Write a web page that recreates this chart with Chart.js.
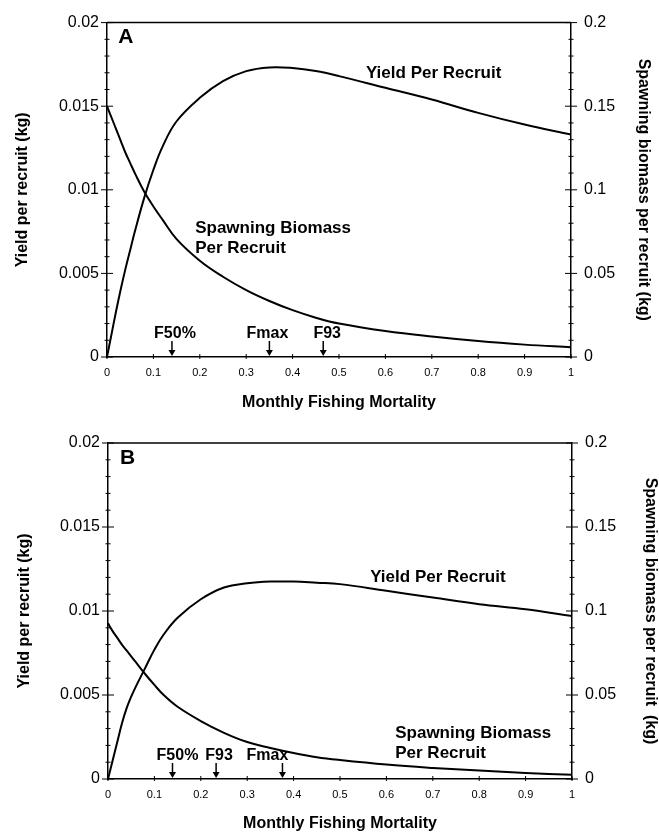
<!DOCTYPE html>
<html>
<head>
<meta charset="utf-8">
<script src="https://cdn.jsdelivr.net/npm/chart.js@4"></script>
<style>
  body { margin: 0; background: #fff; }
  .panel { position: relative; width: 659px; }
</style>
</head>
<body>
<div class="panel" style="height:412px"><canvas id="chartA" width="659" height="412"></canvas></div>
<div class="panel" style="height:420px"><canvas id="chartB" width="659" height="420"></canvas></div>
<script>
// monthly fishing mortality (x)
const mortality = [0, 0.01, 0.02, 0.03, 0.04, 0.05, 0.06, 0.08, 0.1, 0.12, 0.15, 0.2, 0.25, 0.3, 0.35, 0.4, 0.45, 0.5, 0.6, 0.7, 0.8, 0.9, 1.0];

// panel A
const yieldA = [0, 0.0014, 0.0028, 0.0041, 0.0053, 0.0064, 0.0075, 0.0095, 0.0112, 0.0126, 0.0141, 0.0155, 0.0165, 0.0171, 0.01732, 0.01728, 0.0171, 0.0168, 0.0161, 0.0154, 0.0146, 0.0139, 0.0133];
const ssbA = [0.15, 0.143, 0.136, 0.129, 0.122, 0.116, 0.110, 0.099, 0.09, 0.082, 0.0705, 0.0576, 0.048, 0.040, 0.0335, 0.028, 0.0235, 0.020, 0.0155, 0.0122, 0.0095, 0.0074, 0.0058];
const markerNamesA = ['F50%', 'Fmax', 'F93'];
const markerValuesA = [0.14, 0.35, 0.466];

// panel B
const yieldB = [0, 0.0011, 0.0022, 0.0033, 0.0042, 0.0049, 0.0055, 0.0066, 0.0077, 0.0086, 0.0096, 0.0107, 0.0114, 0.01165, 0.01175, 0.01175, 0.01168, 0.0116, 0.0112, 0.0108, 0.0104, 0.0101, 0.0097];
const ssbB = [0.0927, 0.088, 0.084, 0.080, 0.0765, 0.073, 0.0695, 0.0625, 0.056, 0.050, 0.043, 0.0345, 0.0275, 0.022, 0.0185, 0.0155, 0.013, 0.0113, 0.0086, 0.0066, 0.005, 0.0036, 0.0025];
const markerNamesB = ['F50%', 'F93', 'Fmax'];
const markerValuesB = [0.139, 0.233, 0.376];

const xTitle = 'Monthly Fishing Mortality';
const leftTitle = 'Yield per recruit (kg)';
const rightTitleA = 'Spawning biomass per recruit (kg)';
const rightTitleB = 'Spawning biomass per recruit  (kg)';

const FONT = '"Liberation Sans", Arial, Helvetica, sans-serif';
Chart.defaults.font.family = FONT;
Chart.defaults.color = '#000';

function toPoints(xs, ys) {
    return xs.map((x, i) => ({ x: x, y: ys[i] }));
}

function fmt(v, d) {
    return String(parseFloat(v.toFixed(d)));
}

// tick marks, top frame, arrows and text labels
const decorPlugin = {
    id: 'decor',
    afterDraw(chart, args, opts) {
        const { ctx, chartArea: a, scales } = chart;
        ctx.save();
        ctx.strokeStyle = '#000';
        ctx.fillStyle = '#000';

        ctx.lineWidth = 1.5;
        ctx.beginPath();
        ctx.moveTo(a.left, a.top);
        ctx.lineTo(a.right, a.top);
        ctx.stroke();

        ctx.lineWidth = 1;
        const yTicks = (scale, x, minor, major) => {
            const n = Math.round((scale.max - scale.min) / minor);
            for (let i = 0; i <= n; i++) {
                const v = scale.min + i * minor;
                const y = scale.getPixelForValue(v);
                const isMajor = Math.abs(v / major - Math.round(v / major)) < 1e-6;
                const len = isMajor ? 6 : 2.5;
                ctx.beginPath();
                ctx.moveTo(x - len, y);
                ctx.lineTo(x + len, y);
                ctx.stroke();
            }
        };
        yTicks(scales.y, a.left, 0.001, 0.005);
        yTicks(scales.y2, a.right, 0.01, 0.05);

        for (let i = 0; i <= 10; i++) {
            const x = scales.x.getPixelForValue(i / 10);
            ctx.beginPath();
            ctx.moveTo(x, a.bottom - 3);
            ctx.lineTo(x, a.bottom + 2);
            ctx.stroke();
        }

        // arrows for reference points
        ctx.font = 'bold 16px ' + FONT;
        ctx.textAlign = 'center';
        ctx.textBaseline = 'middle';
        opts.markers.forEach((m, i) => {
            const x = scales.x.getPixelForValue(opts.values[i]);
            ctx.lineWidth = 1.5;
            ctx.beginPath();
            ctx.moveTo(x, a.bottom - 16);
            ctx.lineTo(x, a.bottom - 5);
            ctx.stroke();
            ctx.beginPath();
            ctx.moveTo(x - 3.5, a.bottom - 7);
            ctx.lineTo(x + 3.5, a.bottom - 7);
            ctx.lineTo(x, a.bottom - 1);
            ctx.closePath();
            ctx.fill();
            ctx.fillText(m, x + opts.shifts[i], a.bottom - 23);
        });

        // panel letter and curve labels
        ctx.textAlign = 'left';
        opts.labels.forEach(l => {
            ctx.font = 'bold ' + l.size + 'px ' + FONT;
            const x = scales.x.getPixelForValue(l.x);
            const y = scales.y.getPixelForValue(l.y);
            l.text.forEach((t, k) => ctx.fillText(t, x, y + k * 20));
        });
        ctx.restore();
    }
};

function makeChart(id, yieldData, ssbData, cfg) {
    const ctx = document.getElementById(id).getContext('2d');
    return new Chart(ctx, {
        type: 'line',
        data: {
            datasets: [{
                label: 'Yield Per Recruit',
                data: toPoints(mortality, yieldData),
                yAxisID: 'y',
                borderColor: '#000',
                borderWidth: 2,
                pointRadius: 0,
                tension: 0.4,
                fill: false
            }, {
                label: 'Spawning Biomass Per Recruit',
                data: toPoints(mortality, ssbData),
                yAxisID: 'y2',
                borderColor: '#000',
                borderWidth: 2,
                pointRadius: 0,
                tension: 0.4,
                fill: false
            }]
        },
        options: {
            responsive: false,
            animation: false,
            layout: { padding: { top: cfg.top, left: 0, right: 0, bottom: 0 } },
            plugins: {
                legend: { display: false },
                tooltip: { enabled: false },
                decor: cfg.decor
            },
            scales: {
                x: {
                    type: 'linear',
                    min: 0,
                    max: 1,
                    afterFit: (s) => { s.height = cfg.xHeight; },
                    ticks: {
                        stepSize: 0.1,
                        padding: 9,
                        font: { size: 11 },
                        callback: (v) => fmt(v, 1)
                    },
                    grid: { drawOnChartArea: false, drawTicks: false },
                    border: { color: '#000', width: 1.5 },
                    title: {
                        display: true,
                        text: xTitle,
                        font: { size: 16, weight: 'bold', lineHeight: 1 },
                        padding: { top: 0, bottom: cfg.xTitlePad }
                    }
                },
                y: {
                    position: 'left',
                    min: 0,
                    max: 0.02,
                    afterFit: (s) => { s.width = cfg.leftWidth; },
                    ticks: {
                        stepSize: 0.005,
                        padding: 8,
                        font: { size: 16 },
                        callback: (v) => fmt(v, 3)
                    },
                    grid: { drawOnChartArea: false, drawTicks: false },
                    border: { color: '#000', width: 1.5 },
                    title: {
                        display: true,
                        text: leftTitle,
                        font: { size: 16, weight: 'bold', lineHeight: 1 },
                        padding: { top: cfg.leftTitlePad, bottom: 0 }
                    }
                },
                y2: {
                    position: 'right',
                    min: 0,
                    max: 0.2,
                    afterFit: (s) => { s.width = cfg.rightWidth; },
                    ticks: {
                        stepSize: 0.05,
                        padding: 13,
                        font: { size: 16 },
                        callback: (v) => fmt(v, 2)
                    },
                    grid: { drawOnChartArea: false, drawTicks: false },
                    border: { color: '#000', width: 1.5 },
                    title: {
                        display: true,
                        text: cfg.rightTitle,
                        font: { size: 16, weight: 'bold', lineHeight: 1 },
                        padding: { top: cfg.rightTitlePad, bottom: 0 }
                    }
                }
            }
        },
        plugins: [decorPlugin]
    });
}

document.addEventListener('DOMContentLoaded', () => {
    makeChart('chartA', yieldA, ssbA, {
        top: 20, xHeight: 55, leftWidth: 107, rightWidth: 88,
        xTitlePad: 1, leftTitlePad: 15, rightTitlePad: 8,
        rightTitle: rightTitleA,
        decor: {
            markers: markerNamesA,
            values: markerValuesA,
            shifts: [3, -2, 4],
            labels: [
                { text: ['A'], x: 0.024, y: 0.0191, size: 21 },
                { text: ['Yield Per Recruit'], x: 0.558, y: 0.01697, size: 17 },
                { text: ['Spawning Biomass', 'Per Recruit'], x: 0.19, y: 0.0077, size: 17 }
            ]
        }
    });
    makeChart('chartB', yieldB, ssbB, {
        top: 31, xHeight: 53, leftWidth: 108, rightWidth: 87,
        xTitlePad: 0, leftTitlePad: 17, rightTitlePad: 1,
        rightTitle: rightTitleB,
        decor: {
            markers: markerNamesB,
            values: markerValuesB,
            shifts: [5, 3, -15],
            labels: [
                { text: ['B'], x: 0.026, y: 0.0191, size: 21 },
                { text: ['Yield Per Recruit'], x: 0.565, y: 0.01202, size: 17 },
                { text: ['Spawning Biomass', 'Per Recruit'], x: 0.619, y: 0.00274, size: 17 }
            ]
        }
    });
});
</script>
</body>
</html>
